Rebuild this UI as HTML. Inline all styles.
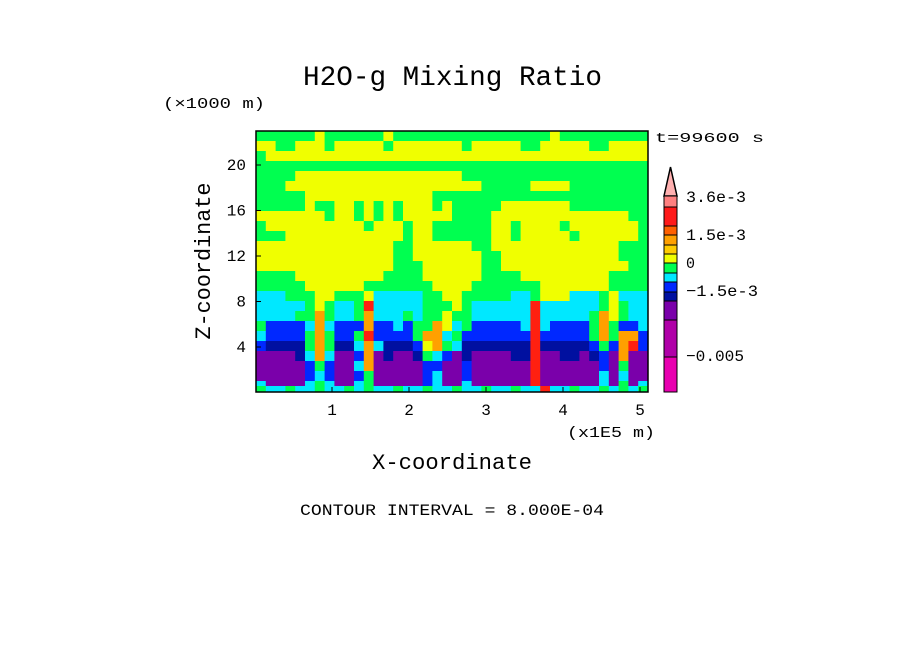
<!DOCTYPE html>
<html><head><meta charset="utf-8"><style>
body{margin:0;background:#fff;}
svg text{font-family:"Liberation Mono","DejaVu Sans Mono",monospace;fill:#000;}
</style></head><body>
<svg id="c" width="904" height="654" xmlns="http://www.w3.org/2000/svg">
<text x="303" y="85" font-size="28" textLength="299" lengthAdjust="spacingAndGlyphs">H2O-g Mixing Ratio</text>
<text x="163" y="108" font-size="15" textLength="102" lengthAdjust="spacingAndGlyphs">(×1000 m)</text>
<text x="655" y="142" font-size="14" textLength="109" lengthAdjust="spacingAndGlyphs">t=99600 s</text>
<text x="567" y="437" font-size="15" textLength="88" lengthAdjust="spacingAndGlyphs">(x1E5 m)</text>
<text x="372" y="469" font-size="22" textLength="160" lengthAdjust="spacingAndGlyphs">X-coordinate</text>
<text x="0" y="0" font-size="22" textLength="157" lengthAdjust="spacingAndGlyphs" text-anchor="middle" transform="translate(210 261) rotate(-90)">Z-coordinate</text>
<text x="300" y="515" font-size="16" textLength="304" lengthAdjust="spacingAndGlyphs">CONTOUR INTERVAL = 8.000E-04</text>
<g id="field"></g>
<g id="axes"></g>
<g id="cbar"></g>
</svg>
<script>
const gridRows = [
"GGGGGGYGGGGGGYGGGGGGGGGGGGGGGGYGGGGGGGGG",
"YYGGYYYGYYYYYGYYYYYYYGYYYYYGGYYYYYGGYYYY",
"GYYYYYYYYYYYYYYYYYYYYYYYYYYYYYYYYYYYYYYY",
"GGGGGGGGGGGGGGGGGGGGGGGGGGGGGGGGGGGGGGGG",
"GGGGYYYYYYYYYYYYYYYYYGGGGGGGGGGGGGGGGGGG",
"GGGYYYYYYYYYYYYYYYYYYYYGGGGGYYYYGGGGGGGG",
"GGGGGYYYYYYYYYYYYYGGGGGGGGGGGGGGGGGGGGGG",
"GGGGGYGGYYGYGYGYYYGYGGGGGYYYYYYYGGGGGGGG",
"YYYYYYYGYYGYGYGYYYYYGGGGYYYYYYYYYYYYYYGG",
"GYYYYYYYYYYGYYYGYYGGGGGGYYGYYYYGYYYYYYYG",
"GGGYYYYYYYYYYYYGYYGGGGGGYYGYYYYYGYYYYYYG",
"YYYYYYYYYYYYYYGGYYYYYYGGYYYYYYYYYYYYYGGG",
"YYYYYYYYYYYYYYGGYYYYYYYGGYYYYYYYYYYYYGGG",
"YYYYYYYYYYYYYYGGGYYYYYYGGYYYYYYYYYYYYYGG",
"GGGGYYYYYYYYYGGGGYYYYYYGGGGYYYYYYYYYGGGG",
"GGGGGYYYYYYGGGGGGGYYYYGGGGGGGYYYYYYYGGGG",
"CCCGGGYYGGGYCCCCCGGYYGGGGGCCGYYYCCCGYCCC",
"CCCCCGYGCCGRCCCCCGGGYGCCCCCCRCCCCCCGYGCC",
"CCCCGGOGCCGOCCCGCGGYGGCCCCCCRCCCCCGOYGCC",
"GBBBBCOCBBBOBBCBGGOYCGBBBBBCRCBBBBGOGBBC",
"CBBBBGOGBBGRBBBBGOOCGBBBBBBBRBBBBBGOGOOB",
"BDDDDGOGDDCOCDDDBYOGCDDDDDDDRDDDDDBGBORB",
"PPPPDCOCPPBOPDPPDGCBPDPPPPDDRPPDDPDBPOPP",
"PPPPPBGBPPCOPPPPPBBPPBPPPPPPRPPPPPPBPGPP",
"PPPPPBCBPPBGPPPPPBCPPBPPPPPPRPPPPPPCPCPP",
"CPPPPCGCPPCGPPPPPBCPPCPPPPPPRPPPPPPCPGPC",
"GCCGCCGCCGCGCCGCCGCCGCCGCCGCCRCCGCCGCGCG"
];
const levelColors = {P:"#7a00aa",D:"#0010a0",B:"#0028ff",C:"#00e8ff",G:"#00ff50",Y:"#f0ff00",O:"#ffa000",R:"#ff2010"};
const xTicks = [1,2,3,4,5];
const zTicks = [4,8,12,16,20];
const barColors = ["#ff8080","#ff1a1a","#ff6000","#ffa000","#ffcc00","#f0ff00","#00ff50","#00e8ff","#0028ff","#0010a0","#7a00aa","#b000a8","#e800b0"];
const barBounds = [196,207,226,235,245,254,263,273,282,292,301,320,357,392];
const barLabels = ["3.6e-3","1.5e-3","0","\u22121.5e-3","\u22120.005"];
const barLabelY = [202,240,268,296,361];
const barLabelW = [60,60,9,72,58];

const NS="http://www.w3.org/2000/svg";
const L=256,R=648,T=131,B=392;
const xScale=v=>255+(v)*77;
const zScale=v=>392.5-v*11.375;
function mk(tag,attrs,parent){const e=document.createElementNS(NS,tag);for(const k in attrs)e.setAttribute(k,attrs[k]);parent.appendChild(e);return e;}
const field=document.getElementById('field');
const nr=gridRows.length,nc=gridRows[0].length;
const rowH=[];for(let i=0;i<nr;i++)rowH.push(i<nr-2?10:(i==nr-2?5:6));
const cw=(R-L)/nc;
let yy=T;
gridRows.forEach((row,i)=>{for(let j=0;j<nc;j++){
  const r=mk('rect',{x:L+j*cw,y:yy,width:cw+0.5,height:rowH[i]+0.5,fill:levelColors[row[j]]},field);
  
  
} yy+=rowH[i];});
const axes=document.getElementById('axes');
const frame=mk('rect',{x:L,y:T,width:R-L,height:B-T,fill:'none',stroke:'#000','stroke-width':1.5},axes);


xTicks.forEach(v=>{
  const t=mk('text',{x:xScale(v),y:415,'font-size':16,'text-anchor':'middle'},axes);t.textContent=v;
  
  
  mk('line',{x1:xScale(v),x2:xScale(v),y1:B,y2:B-5,stroke:'#000'},axes);
});
zTicks.forEach(v=>{
  const t=mk('text',{x:246,y:zScale(v)+5,'font-size':16,'text-anchor':'end'},axes);t.textContent=v;
  
  
  mk('line',{x1:L,x2:L+5,y1:zScale(v),y2:zScale(v),stroke:'#000'},axes);
});
const cb=document.getElementById('cbar');
const tri=mk('polygon',{points:"664,196 677,196 670.5,167",fill:"#ffb0b0",stroke:"#000","stroke-width":1.5},cb);


barColors.forEach((c,i)=>{
  const r=mk('rect',{x:664,y:barBounds[i],width:13,height:barBounds[i+1]-barBounds[i],fill:c,stroke:'#000','stroke-width':1},cb);
  
  
});
barLabels.forEach((s,i)=>{
  const t=mk('text',{x:686,y:barLabelY[i],'font-size':16,textLength:barLabelW[i],lengthAdjust:'spacingAndGlyphs'},cb);t.textContent=s;
  
  
});
</script>
</body></html>
